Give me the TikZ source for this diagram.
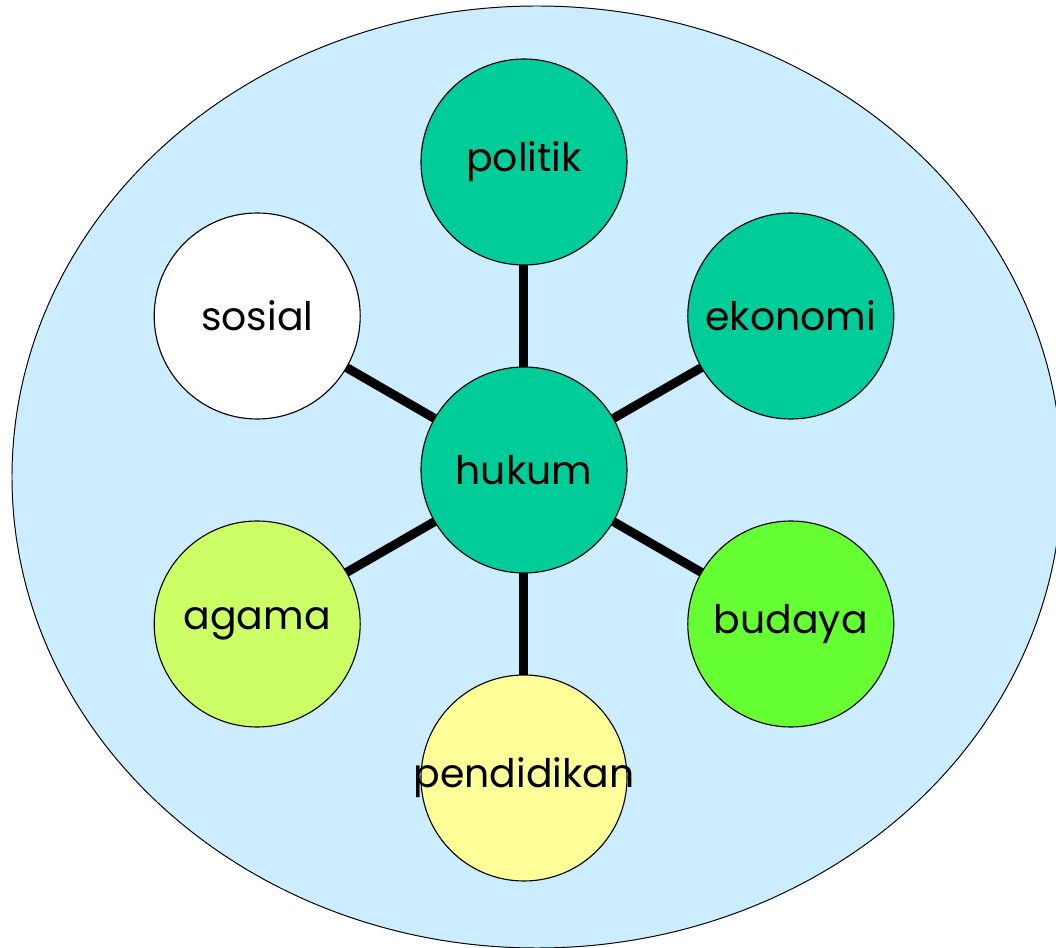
\documentclass[tikz,border=0pt]{standalone}
\usepackage{fontspec}
\setmainfont{Poppins}
\usetikzlibrary{shapes.geometric, backgrounds, positioning}
\definecolor{skyblue}{RGB}{204, 236, 255}
\definecolor{teal}{RGB}{0, 204, 153}
\definecolor{limegreen}{RGB}{204, 255, 102}
\definecolor{brightgreen}{RGB}{102, 255, 51}
\definecolor{paleyellow}{RGB}{255, 255, 153}
\tikzstyle{topic} = [circle, minimum size=5.15cm, inner sep=0pt, text centered, draw=black, line width=0.8pt, font=\fontsize{28}{34}\selectfont]
\tikzstyle{link} = [line width=6.4pt, -]

\begin{document}
\begin{tikzpicture}[node distance=7.7cm]
\useasboundingbox (-13.1,-11.95) rectangle (13.3,11.75);

% centre
\node (hukum) [topic, fill=teal] {hukum};

% ring
\node (politik) [topic, fill=teal, above of=hukum] {politik};
\node (pendidikan) [topic, fill=paleyellow, below of=hukum] {\makebox[0pt]{pendidikan}};
\node (ekonomi) [topic, fill=teal, right of=hukum, xshift=-1.03cm, yshift=3.85cm] {ekonomi};
\node (budaya) [topic, fill=brightgreen, right of=hukum, xshift=-1.03cm, yshift=-3.85cm] {budaya};
\node (sosial) [topic, fill=white, left of=hukum, xshift=1.03cm, yshift=3.85cm] {sosial};
\node (agama) [topic, fill=limegreen, left of=hukum, xshift=1.03cm, yshift=-3.85cm] {agama};

\begin{scope}[on background layer]
\draw[fill=skyblue, line width=0.7pt] (0.325,-0.175) ellipse (13.125cm and 11.775cm);
\foreach \n in {politik, ekonomi, budaya, pendidikan, agama, sosial}
  \draw[link] (hukum.center) -- (\n.center);
\end{scope}

\end{tikzpicture}
\end{document}
